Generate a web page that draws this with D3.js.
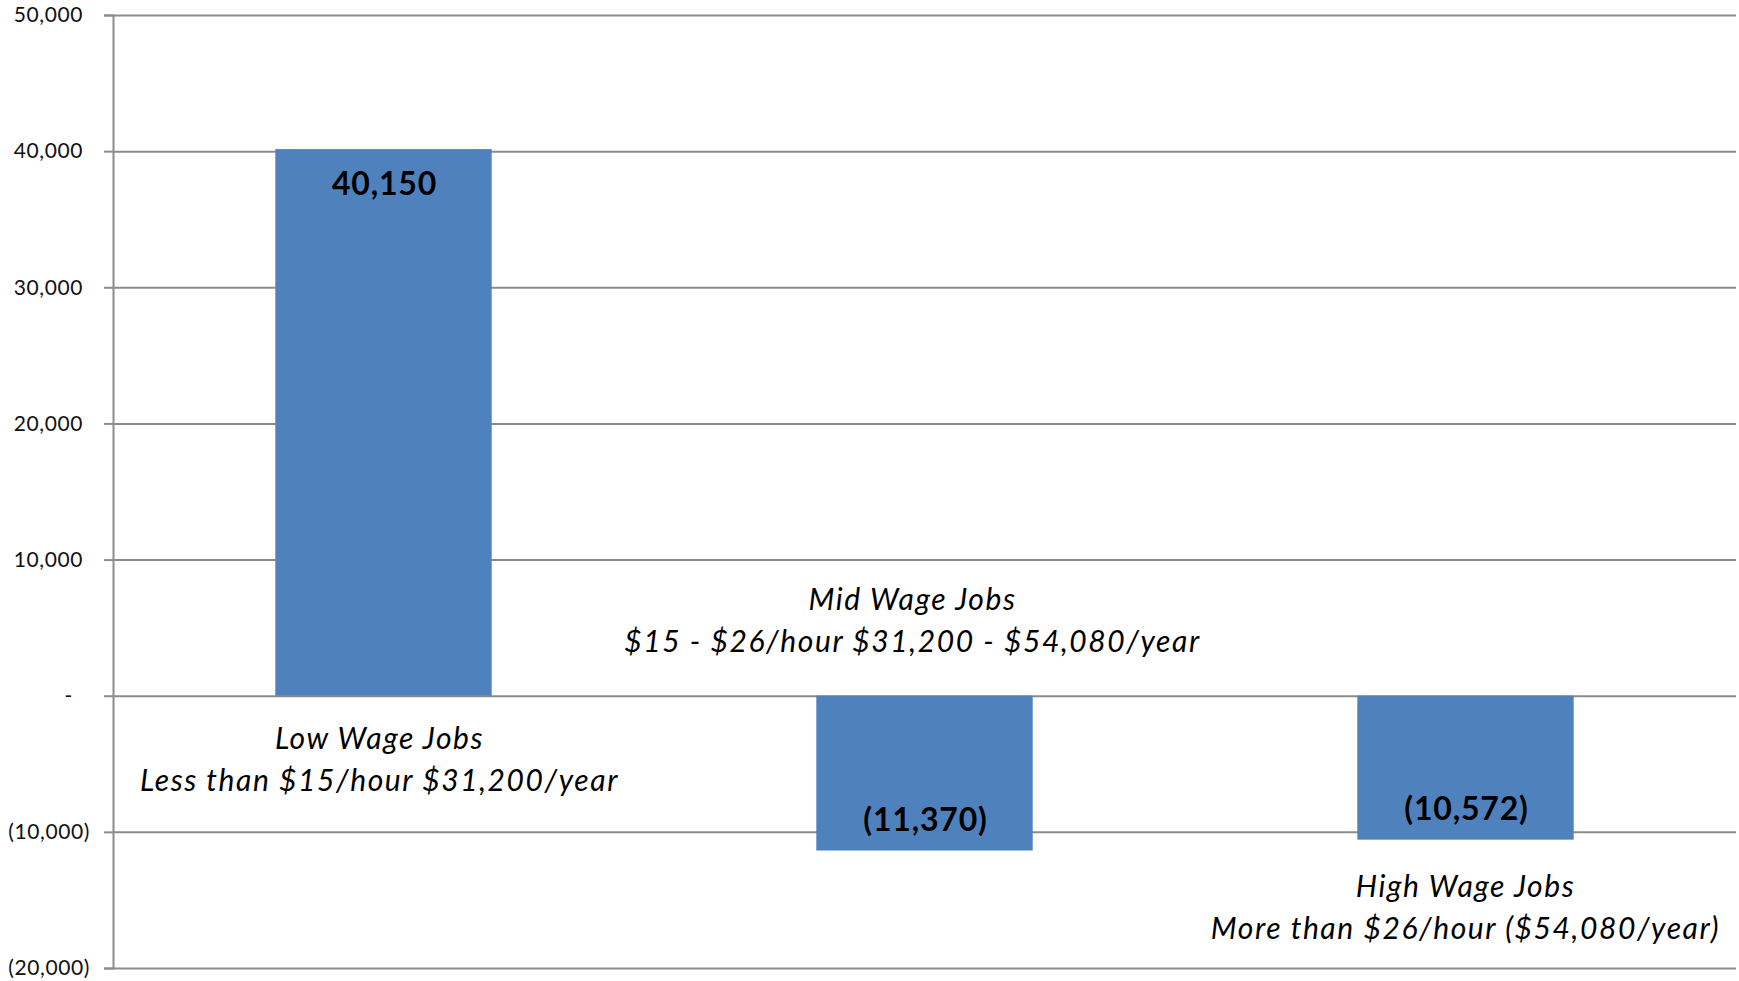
<!DOCTYPE html>
<html>
<head>
<meta charset="utf-8">
<script src="https://cdn.jsdelivr.net/npm/d3@7"></script>
<style>
  html, body { margin: 0; padding: 0; background: #fff; }
  svg { display: block; }
</style>
</head>
<body>
<svg id="chart"></svg>
<script>
// wage band job change
const categories = ["Low Wage Jobs", "Mid Wage Jobs", "High Wage Jobs"];
const rangeLabels = [
    "Less than $15/hour $31,200/year",
    "$15 - $26/hour $31,200 - $54,080/year",
    "More than $26/hour ($54,080/year)"
];
const jobChange = [40150, -11370, -10572];
const yTicks = [-20000, -10000, 0, 10000, 20000, 30000, 40000, 50000];

const width = 1739
const height = 981
const margin = {top: 15, right: 3, bottom: 13, left: 113}
const barColor = "#4f81bd"
const gridColor = "#8c8c8c"
const font = "Lato, 'Open Sans', sans-serif"

// where each category name sits (Excel labels were dragged around by hand)
const labelLayout = [
    {anchor: "belowAxis", dx: -4},
    {anchor: "aboveAxis", dx: -12},
    {anchor: "belowBar", dx: 0}
]

const rows = categories.map((c, i) => ({name: c, sub: rangeLabels[i], value: jobChange[i], layout: labelLayout[i]}))

const x = d3.scaleBand()
    .domain(categories)
    .range([margin.left, width - margin.right])
    .paddingInner(0.6)
    .paddingOuter(0.3)

const y = d3.scaleLinear()
    .domain([-20000, 50000])
    .range([height - margin.bottom, margin.top])

const fmt = d3.format(",")
const acct = v => v === 0 ? "-" : v < 0 ? `(${fmt(-v)})` : fmt(v)

const svg = d3.select("#chart")
    .attr("width", width)
    .attr("height", height)
    .style("font-family", font)

// gridlines
svg.append("g")
    .attr("transform", `translate(${margin.left},0)`)
    .call(d3.axisLeft(y).tickValues(yTicks).tickSize(-(width - margin.right - margin.left)).tickFormat(""))
    .call(g => g.select(".domain").remove())
    .call(g => g.selectAll("line").attr("stroke", gridColor).attr("stroke-width", 2))

// y axis
svg.append("g")
    .attr("transform", `translate(${margin.left},0)`)
    .call(d3.axisLeft(y).tickValues(yTicks).tickSize(9).tickPadding(15).tickFormat(acct))
    .call(g => g.select(".domain").attr("stroke", gridColor).attr("stroke-width", 2))
    .call(g => g.selectAll(".tick line").attr("stroke", gridColor).attr("stroke-width", 2))
    .call(g => g.selectAll(".tick text")
        .attr("fill", "#111")
        .style("font-size", "21px")
        .style("letter-spacing", "0.6px")
        .style("font-family", font)
        .attr("dx", d => d > 0 ? -6 : d === 0 ? -16 : 1))

// bars
svg.append("g")
    .selectAll("rect")
    .data(rows)
    .join("rect")
    .attr("x", d => x(d.name))
    .attr("y", d => y(Math.max(0, d.value)))
    .attr("width", x.bandwidth())
    .attr("height", d => Math.abs(y(d.value) - y(0)))
    .attr("fill", barColor)

// value labels, inside end
svg.append("g")
    .style("font", `bold 32px ${font}`)
    .style("letter-spacing", "0.8px")
    .selectAll("text")
    .data(rows)
    .join("text")
    .attr("x", d => x(d.name) + x.bandwidth() / 2 + 1)
    .attr("y", d => d.value >= 0 ? y(d.value) + 46 : y(d.value) - 20)
    .attr("text-anchor", "middle")
    .attr("fill", "#000")
    .text(d => acct(d.value))

// category labels
const catY = d => {
    if (d.layout.anchor === "belowAxis") return y(0) + 53
    if (d.layout.anchor === "aboveAxis") return y(0) - 86
    return y(d.value) + 57
}

const cat = svg.append("g")
    .style("font", `italic 30px ${font}`)
    .style("letter-spacing", "1.6px")
    .selectAll("text")
    .data(rows)
    .join("text")
    .attr("text-anchor", "middle")
    .attr("fill", "#000")
    .attr("y", catY)

cat.append("tspan")
    .attr("x", d => x(d.name) + x.bandwidth() / 2 + d.layout.dx)
    .text(d => d.name)

cat.append("tspan")
    .attr("x", d => x(d.name) + x.bandwidth() / 2 + d.layout.dx)
    .attr("dy", 42)
    .text(d => d.sub)
</script>
</body>
</html>
